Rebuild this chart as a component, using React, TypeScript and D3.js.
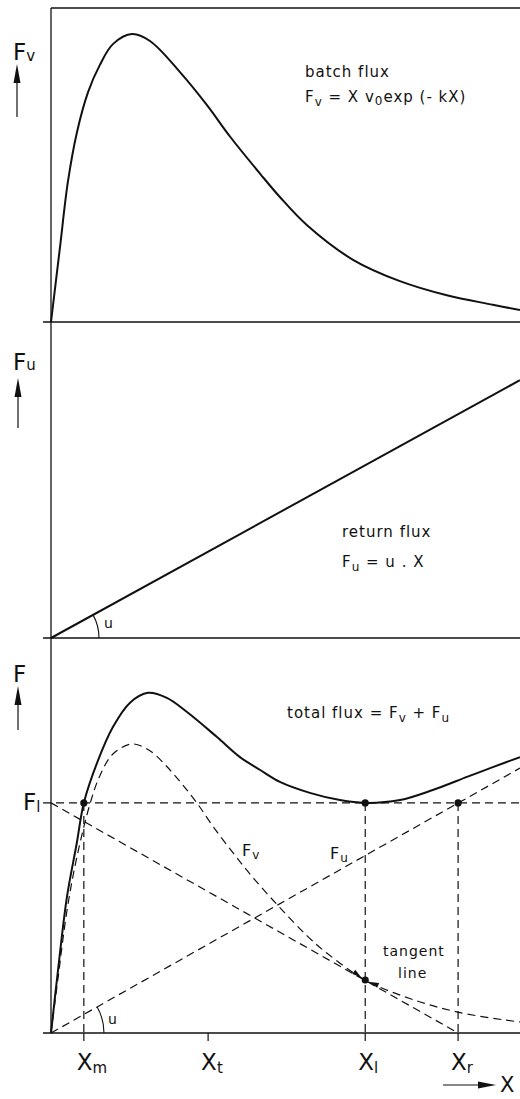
import React from "react";
import * as d3 from "d3";

const W = 520;
const H = 1099;

// Concentration axis shared by the three panels (arbitrary units)
const X_MAX = 10;

// Batch flux F_v = X v0 exp(-kX), sampled along the drawn curve
const batchX = [0, 0.19, 0.36, 0.55, 0.79, 1.04, 1.32, 1.73, 2.11, 2.75, 3.33, 3.82, 4.46, 4.88, 5.46, 6.44, 7.44, 8.44, 9.42, 10];
const batchF = [0, 2.36, 4.46, 6.02, 7.32, 8.18, 8.85, 9.17, 8.95, 7.96, 6.9, 5.9, 4.72, 3.98, 3.08, 1.98, 1.3, 0.85, 0.55, 0.38];

// Return flux F_u = u . X
const returnX = [0, 10];
const returnF = [0, 8.16];

// Total flux F_v + F_u
const totalX = [0, 0.15, 0.34, 0.55, 0.7, 0.98, 1.32, 1.68, 2.07, 2.47, 2.9, 3.54, 4.03, 4.46, 4.88, 5.52, 6.16, 6.7, 7.44, 8.14, 8.87, 9.42, 10];
const totalF = [0, 2.01, 4.34, 6.06, 7.34, 8.61, 9.76, 10.53, 10.85, 10.69, 10.24, 9.44, 8.8, 8.39, 8.01, 7.66, 7.43, 7.34, 7.43, 7.75, 8.17, 8.48, 8.8];

// Batch flux repeated (dashed) in the lower panel
const fvX = [0, 0.15, 0.34, 0.55, 0.83, 1.04, 1.32, 1.73, 2.11, 2.47, 2.79, 3.11, 3.45, 3.88, 4.31, 4.88, 5.46, 5.88, 6.7, 7.65, 8.72, 10];
const fvF = [0, 1.75, 3.9, 5.6, 7.3, 8.2, 8.9, 9.22, 9.0, 8.5, 7.95, 7.34, 6.6, 5.75, 4.95, 4.0, 3.1, 2.55, 1.69, 1.1, 0.65, 0.35];

// Return flux repeated (dashed) in the lower panel
const fuX = [0, 10];
const fuF = [0, 8.45];

// Limiting flux and characteristic concentrations
const F_L = 7.34;
const X_M = 0.7;
const X_T = 3.35;
const X_L = 6.7;
const X_R = 8.68;
const F_TANGENT = 1.69; // F_v at X_l, where the tangent line touches

const tickValues = [X_M, X_T, X_L, X_R];
const tickSubs = ["m", "t", "l", "r"];
const tickDashed = [true, false, true, true];

const FONT = "DejaVu Sans";
const INK = "#111";

const x = d3.scaleLinear().domain([0, X_MAX]).range([51, 520]);
const y1 = d3.scaleLinear().domain([0, 10]).range([322, 8]);
const y2 = d3.scaleLinear().domain([0, 10]).range([638, 322]);
const y3 = d3.scaleLinear().domain([0, 12.6]).range([1033, 638]);

const zip = (xs: number[], ys: number[]) => xs.map((v, i) => [v, ys[i]] as [number, number]);

const smooth = d3.curveCatmullRom.alpha(0.5);

function linePath(xs: number[], ys: number[], ys_: d3.ScaleLinear<number, number>, curve: d3.CurveFactory = smooth) {
  return d3
    .line<[number, number]>()
    .x((d) => x(d[0]))
    .y((d) => ys_(d[1]))
    .curve(curve)(zip(xs, ys)) as string;
}

function UpArrow({ cx, top, bottom }: { cx: number; top: number; bottom: number }) {
  return (
    <g>
      <line x1={cx} y1={bottom} x2={cx} y2={top + 14} stroke={INK} strokeWidth={1.2} />
      <path d={`M${cx},${top} L${cx - 3.5},${top + 19} L${cx + 3.5},${top + 19} Z`} fill={INK} />
    </g>
  );
}

function AngleArc({ y, slope, r }: { y: d3.ScaleLinear<number, number>; slope: number; r: number }) {
  const ox = x(0);
  const oy = y(0);
  const dx = x(1) - x(0);
  const dy = y(0) - y(slope);
  const a = Math.atan2(dy, dx);
  const ex = ox + r * Math.cos(a);
  const ey = oy - r * Math.sin(a);
  return <path d={`M${ox + r},${oy} A${r},${r} 0 0 0 ${ex},${ey}`} fill="none" stroke={INK} strokeWidth={1.1} />;
}

function HeadAlong({ from, to, back }: { from: [number, number]; to: [number, number]; back: number }) {
  // small filled arrowhead pointing from `from` toward `to`, tip `back` px short of `to`
  const ang = Math.atan2(to[1] - from[1], to[0] - from[0]);
  const tx = to[0] - back * Math.cos(ang);
  const ty = to[1] - back * Math.sin(ang);
  const L = 9;
  const w = 2.6;
  const bx = tx - L * Math.cos(ang);
  const by = ty - L * Math.sin(ang);
  const px = -Math.sin(ang) * w;
  const py = Math.cos(ang) * w;
  return <path d={`M${tx},${ty} L${bx + px},${by + py} L${bx - px},${by - py} Z`} fill={INK} />;
}

export default function App() {
  const dash = "8,5";
  const txt = { fontFamily: FONT, fill: INK, fontSize: 15, letterSpacing: 1 } as const;
  const big = { fontFamily: FONT, fill: INK, fontSize: 23 } as const;

  // neighbours of the tangent point along the dashed batch-flux curve
  const iT = fvX.indexOf(X_L);
  const tPt: [number, number] = [x(X_L), y3(F_TANGENT)];
  const prevPt: [number, number] = [x(fvX[iT - 1]), y3(fvF[iT - 1])];
  const nextPt: [number, number] = [x(fvX[iT + 1]), y3(fvF[iT + 1])];

  return (
    <svg
      width={W}
      height={H}
      viewBox={`0 0 ${W} ${H}`}
      style={{ position: "absolute", left: 0, top: 0, background: "#fff" }}
    >
      <rect width={W} height={H} fill="#fff" />

      {/* frame: left axis and panel separators */}
      <line x1={x(0)} y1={y1(10)} x2={x(0)} y2={y3(0)} stroke={INK} strokeWidth={1.3} />
      <line x1={x(0)} y1={y1(10)} x2={W} y2={y1(10)} stroke={INK} strokeWidth={1.3} />
      <line x1={x(0) - 8} y1={y1(0)} x2={W} y2={y1(0)} stroke={INK} strokeWidth={1.3} />
      <line x1={x(0) - 8} y1={y2(0)} x2={W} y2={y2(0)} stroke={INK} strokeWidth={1.3} />
      <line x1={x(0) - 8} y1={y3(0)} x2={W} y2={y3(0)} stroke={INK} strokeWidth={1.3} />

      {/* panel 1: batch flux */}
      <path d={linePath(batchX, batchF, y1)} fill="none" stroke={INK} strokeWidth={2} />
      <text x={13} y={60} {...big}>
        F<tspan fontSize={15} dy={1}>v</tspan>
      </text>
      <UpArrow cx={17} top={64} bottom={117} />
      <text x={305} y={77} {...txt}>batch flux</text>
      <text x={305} y={102} {...txt}>
        F<tspan fontSize={12} dy={4}>v</tspan>
        <tspan dy={-4}> = X v</tspan>
        <tspan fontSize={12} dy={3}>0</tspan>
        <tspan dy={-3}>exp (- kX)</tspan>
      </text>

      {/* panel 2: return flux */}
      <path d={linePath(returnX, returnF, y2, d3.curveLinear)} fill="none" stroke={INK} strokeWidth={2} />
      <AngleArc y={y2} slope={returnF[1] / returnX[1]} r={48} />
      <text x={104} y={628} {...txt} fontSize={14}>u</text>
      <text x={13} y={370} {...big}>
        F<tspan fontSize={15} dy={0}>u</tspan>
      </text>
      <UpArrow cx={18} top={378} bottom={428} />
      <text x={342} y={537} {...txt}>return flux</text>
      <text x={342} y={567} {...txt}>
        F<tspan fontSize={12} dy={4}>u</tspan>
        <tspan dy={-4}> = u . X</tspan>
      </text>

      {/* panel 3: total flux and its construction */}
      <text x={13} y={682} {...big}>F</text>
      <UpArrow cx={18} top={686} bottom={730} />
      <text x={287} y={718} {...txt}>
        total flux = F<tspan fontSize={12} dy={4}>v</tspan>
        <tspan dy={-4}> + F</tspan>
        <tspan fontSize={12} dy={4}>u</tspan>
      </text>

      {/* dashed construction lines */}
      <g fill="none" stroke={INK} strokeWidth={1.2} strokeDasharray={dash}>
        <line x1={x(0) - 8} y1={y3(F_L)} x2={W} y2={y3(F_L)} />
        <path d={linePath(fvX, fvF, y3)} />
        <path d={linePath(fuX, fuF, y3, d3.curveLinear)} />
        <line x1={x(0)} y1={y3(F_L)} x2={x(X_R)} y2={y3(0)} />
        {tickValues.map((v, i) =>
          tickDashed[i] ? <line key={i} x1={x(v)} y1={y3(F_L)} x2={x(v)} y2={y3(0)} /> : null
        )}
      </g>
      <AngleArc y={y3} slope={fuF[1] / fuX[1]} r={53} />
      <text x={108} y={1024} {...txt} fontSize={14}>u</text>

      <path d={linePath(totalX, totalF, y3)} fill="none" stroke={INK} strokeWidth={2} />

      {/* marked points */}
      {[
        [X_M, F_L],
        [X_L, F_L],
        [X_R, F_L],
        [X_L, F_TANGENT],
      ].map((p, i) => (
        <circle key={i} cx={x(p[0])} cy={y3(p[1])} r={3.6} fill={INK} />
      ))}
      <HeadAlong from={prevPt} to={tPt} back={5} />
      <HeadAlong from={nextPt} to={tPt} back={5} />

      <text x={242} y={856} {...txt} fontSize={16}>
        F<tspan fontSize={12} dy={3}>v</tspan>
      </text>
      <text x={330} y={859} {...txt} fontSize={16}>
        F<tspan fontSize={12} dy={3}>u</tspan>
      </text>
      <text x={383} y={956} {...txt} fontSize={14}>tangent</text>
      <text x={398} y={978} {...txt} fontSize={14}>line</text>

      <text x={23} y={810} {...big}>
        F<tspan fontSize={15} dy={2}>l</tspan>
      </text>

      {/* x ticks and labels */}
      {tickValues.map((v, i) => (
        <g key={i}>
          <line x1={x(v)} y1={y3(0)} x2={x(v)} y2={y3(0) + 8} stroke={INK} strokeWidth={1.2} />
          <text x={x(v) - 7} y={1070} {...big}>
            X<tspan fontSize={15} dy={3}>{tickSubs[i]}</tspan>
          </text>
        </g>
      ))}

      {/* abscissa arrow */}
      <line x1={443} y1={1085} x2={482} y2={1085} stroke={INK} strokeWidth={1.2} />
      <path d="M496,1085 L478,1081.5 L478,1088.5 Z" fill={INK} />
      <text x={500} y={1092} {...big} fontSize={21}>X</text>
    </svg>
  );
}
